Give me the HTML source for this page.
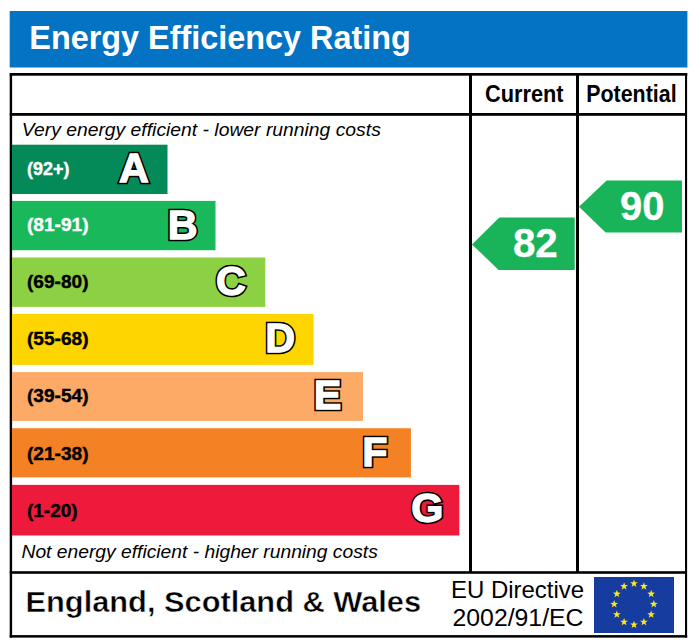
<!DOCTYPE html>
<html>
<head>
<meta charset="utf-8">
<title>Energy Efficiency Rating</title>
<style>
html,body{margin:0;padding:0;background:#fff;}
body{width:700px;height:642px;overflow:hidden;font-family:"Liberation Sans",sans-serif;}
svg{display:block;position:absolute;left:0;top:0;}
text{font-family:"Liberation Sans",sans-serif;}
.b{font-weight:bold;}
.i{font-style:italic;}
.rng text{font-weight:bold;font-size:18.6px;stroke-width:0.4px;}
.ltr text{font-weight:bold;font-size:41.3px;}
.lk text{fill:#000;stroke:#000;stroke-width:4.5px;stroke-linejoin:miter;stroke-miterlimit:2.5;}
.lw text{fill:#fff;stroke:#fff;stroke-width:1.3px;stroke-linejoin:miter;stroke-miterlimit:2.5;}
.num{font-weight:bold;font-size:41.2px;fill:#fff;stroke:#fff;stroke-width:0.3px;}
</style>
</head>
<body>
<svg width="700" height="642" viewBox="0 0 700 642">
  <rect x="0" y="0" width="700" height="642" fill="#ffffff"/>

  <!-- title banner -->
  <rect x="9.7" y="11" width="677.7" height="56.5" fill="#0473c4"/>
  <text x="29.3" y="49.4" class="b" font-size="33.6" fill="#fff" textLength="381.5" lengthAdjust="spacingAndGlyphs">Energy Efficiency Rating</text>

  <!-- table frame -->
  <rect x="9.8" y="73" width="677.5" height="2.7" fill="#000"/>
  <rect x="9.7" y="635.1" width="677.5" height="2.5" fill="#000"/>
  <rect x="9.7" y="73" width="2.4" height="564.6" fill="#000"/>
  <rect x="685" y="73" width="2.1" height="564.6" fill="#000"/>
  <rect x="9.8" y="113" width="677" height="2.8" fill="#000"/>
  <rect x="9.8" y="571.2" width="677" height="2.6" fill="#000"/>
  <rect x="469" y="73" width="3" height="499" fill="#000"/>
  <rect x="576" y="73" width="3" height="499" fill="#000"/>

  <!-- column headings -->
  <text x="485" y="101.6" class="b" font-size="23.2" fill="#000" textLength="78.6" lengthAdjust="spacingAndGlyphs">Current</text>
  <text x="586.2" y="101.6" class="b" font-size="23.2" fill="#000" textLength="90.4" lengthAdjust="spacingAndGlyphs">Potential</text>

  <!-- captions -->
  <text x="21.8" y="136.4" class="i" font-size="19.2" fill="#000" textLength="359" lengthAdjust="spacingAndGlyphs">Very energy efficient - lower running costs</text>
  <text x="21.5" y="558.4" class="i" font-size="19.2" fill="#000" textLength="356.3" lengthAdjust="spacingAndGlyphs">Not energy efficient - higher running costs</text>

  <!-- bars -->
  <rect x="12" y="144.7" width="155.5" height="49.3" fill="#048a58"/>
  <rect x="12" y="200.9" width="203.5" height="49.3" fill="#18b85b"/>
  <rect x="12" y="257.5" width="253.3" height="49.4" fill="#8cd143"/>
  <rect x="12" y="314" width="301.6" height="50.9" fill="#ffd500"/>
  <rect x="12" y="372.1" width="351" height="48.8" fill="#fcaa65"/>
  <rect x="12" y="428.2" width="398.9" height="49.2" fill="#f48224"/>
  <rect x="12" y="484.9" width="447.3" height="50.6" fill="#ee1a3b"/>

  <!-- range labels -->
  <g class="rng">
  <text x="27" y="174.8" fill="#fff" stroke="#fff" textLength="42.4" lengthAdjust="spacingAndGlyphs">(92+)</text>
  <text x="27" y="230.5" fill="#fff" stroke="#fff" textLength="61.6" lengthAdjust="spacingAndGlyphs">(81-91)</text>
  <text x="27" y="288.1" fill="#000" stroke="#000" textLength="61.6" lengthAdjust="spacingAndGlyphs">(69-80)</text>
  <text x="27" y="344.9" fill="#000" stroke="#000" textLength="61.6" lengthAdjust="spacingAndGlyphs">(55-68)</text>
  <text x="27" y="401.8" fill="#000" stroke="#000" textLength="61.6" lengthAdjust="spacingAndGlyphs">(39-54)</text>
  <text x="27" y="460" fill="#000" stroke="#000" textLength="61.6" lengthAdjust="spacingAndGlyphs">(21-38)</text>
  <text x="27" y="516.6" fill="#000" stroke="#000" textLength="50.5" lengthAdjust="spacingAndGlyphs">(1-20)</text>
  </g>

  <!-- band letters -->
  <g class="ltr lk">
  <text x="118.96" y="181.86">A</text>
  <text x="167.84" y="238.51">B</text>
  <text x="216.00" y="294.86">C</text>
  <text x="265.17" y="352.21">D</text>
  <text x="313.80" y="409.36">E</text>
  <text x="362.26" y="465.66">F</text>
  <text x="411.27" y="522.16">G</text>
  </g>
  <g class="ltr lw">
  <text x="118.96" y="181.86">A</text>
  <text x="167.84" y="238.51">B</text>
  <text x="216.00" y="294.86">C</text>
  <text x="265.17" y="352.21">D</text>
  <text x="313.80" y="409.36">E</text>
  <text x="362.26" y="465.66">F</text>
  <text x="411.27" y="522.16">G</text>
  </g>

  <!-- arrows -->
  <polygon points="472,244.4 499.3,217.5 574.7,217.5 574.7,269.9 498.6,269.9" fill="#19b459"/>
  <text x="512.9" y="257.4" class="num" textLength="44.9" lengthAdjust="spacingAndGlyphs">82</text>
  <polygon points="579,206.8 606.6,180.4 682,180.4 682,232.4 605.6,232.4" fill="#19b459"/>
  <text x="620" y="220.4" class="num" textLength="44.5" lengthAdjust="spacingAndGlyphs">90</text>

  <!-- footer -->
  <text x="25.5" y="612.4" class="b" font-size="29.2" fill="#000" stroke="#fff" stroke-width="0.45" textLength="395.6" lengthAdjust="spacingAndGlyphs">England, Scotland &amp; Wales</text>
  <text x="450.9" y="597.9" font-size="24.3" fill="#000" textLength="133.3" lengthAdjust="spacingAndGlyphs">EU Directive</text>
  <text x="452.5" y="626" font-size="24.8" fill="#000" textLength="131" lengthAdjust="spacingAndGlyphs">2002/91/EC</text>

  <!-- EU flag -->
  <rect x="594" y="577" width="80" height="56" fill="#173c9f"/>
  <g fill="#ffe81a">
    <polygon points="634.00,579.50 634.97,582.27 637.90,582.33 635.57,584.11 636.41,586.92 634.00,585.25 631.59,586.92 632.43,584.11 630.10,582.33 633.03,582.27"/>
    <polygon points="643.90,582.26 644.87,585.02 647.80,585.09 645.47,586.87 646.31,589.68 643.90,588.01 641.49,589.68 642.33,586.87 640.00,585.09 642.93,585.02"/>
    <polygon points="651.15,589.80 652.12,592.57 655.05,592.63 652.72,594.41 653.56,597.22 651.15,595.55 648.74,597.22 649.58,594.41 647.25,592.63 650.18,592.57"/>
    <polygon points="653.80,600.10 654.77,602.87 657.70,602.93 655.37,604.71 656.21,607.52 653.80,605.85 651.39,607.52 652.23,604.71 649.90,602.93 652.83,602.87"/>
    <polygon points="651.15,610.40 652.12,613.17 655.05,613.23 652.72,615.01 653.56,617.82 651.15,616.15 648.74,617.82 649.58,615.01 647.25,613.23 650.18,613.17"/>
    <polygon points="643.90,617.94 644.87,620.71 647.80,620.77 645.47,622.55 646.31,625.36 643.90,623.69 641.49,625.36 642.33,622.55 640.00,620.77 642.93,620.71"/>
    <polygon points="634.00,620.70 634.97,623.47 637.90,623.53 635.57,625.31 636.41,628.12 634.00,626.45 631.59,628.12 632.43,625.31 630.10,623.53 633.03,623.47"/>
    <polygon points="624.10,617.94 625.07,620.71 628.00,620.77 625.67,622.55 626.51,625.36 624.10,623.69 621.69,625.36 622.53,622.55 620.20,620.77 623.13,620.71"/>
    <polygon points="616.85,610.40 617.82,613.17 620.75,613.23 618.42,615.01 619.26,617.82 616.85,616.15 614.44,617.82 615.28,615.01 612.95,613.23 615.88,613.17"/>
    <polygon points="614.20,600.10 615.17,602.87 618.10,602.93 615.77,604.71 616.61,607.52 614.20,605.85 611.79,607.52 612.63,604.71 610.30,602.93 613.23,602.87"/>
    <polygon points="616.85,589.80 617.82,592.57 620.75,592.63 618.42,594.41 619.26,597.22 616.85,595.55 614.44,597.22 615.28,594.41 612.95,592.63 615.88,592.57"/>
    <polygon points="624.10,582.26 625.07,585.02 628.00,585.09 625.67,586.87 626.51,589.68 624.10,588.01 621.69,589.68 622.53,586.87 620.20,585.09 623.13,585.02"/>
  </g>
</svg>
</body>
</html>
